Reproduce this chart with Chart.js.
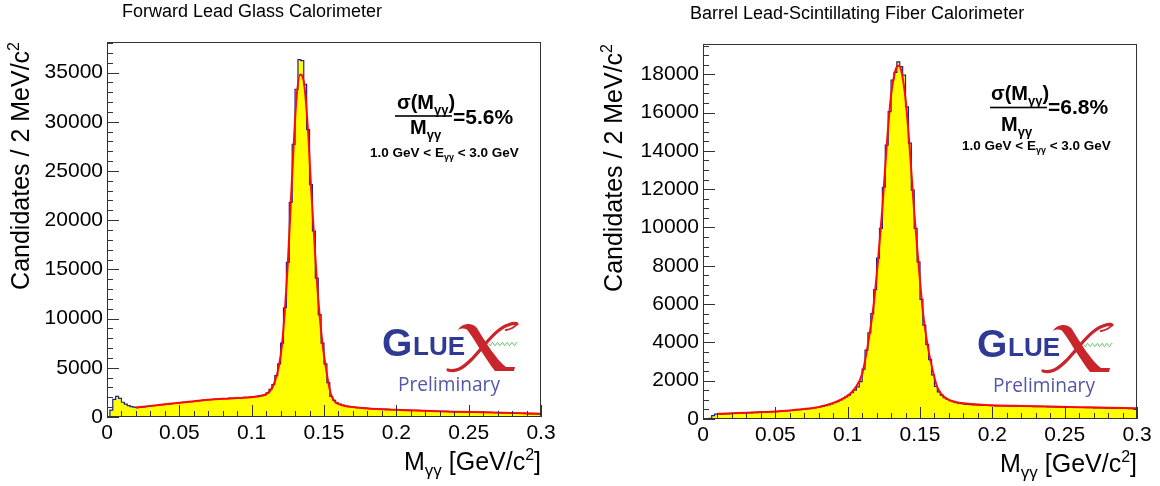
<!DOCTYPE html>
<html>
<head>
<meta charset="utf-8">
<title>GlueX pi0 calorimeter resolution</title>
<script src="https://cdn.jsdelivr.net/npm/chart.js@4.4.1/dist/chart.umd.min.js"></script>
<style>
  html, body { margin: 0; padding: 0; background: #fff; }
  #wrap { position: relative; width: 1160px; height: 486px; overflow: hidden; }
  canvas { position: absolute; top: 0; }
  #fcal { left: 0; }
  #bcal { left: 580px; }
</style>
</head>
<body>
<div id="wrap">
  <canvas id="fcal" width="580" height="486"></canvas>
  <canvas id="bcal" width="580" height="486"></canvas>
</div>
<script>
// Two-photon invariant mass, 2 MeV bins from 0 to 0.3 GeV
const binWidth = 0.002;
const xTickValues = [0, 0.05, 0.1, 0.15, 0.2, 0.25, 0.3];
const fcalYTicks = [0, 5000, 10000, 15000, 20000, 25000, 30000, 35000];
const bcalYTicks = [0, 2000, 4000, 6000, 8000, 10000, 12000, 14000, 16000, 18000];

// Forward Lead Glass Calorimeter - candidates per bin
const fcalBins = [
    0, 700, 1800, 2100, 1900, 1500, 1300, 1150, 1050, 1000,
    960, 990, 1010, 1060, 1080, 1120, 1160, 1170, 1220, 1260,
    1280, 1310, 1360, 1370, 1410, 1450, 1480, 1500, 1550, 1570,
    1600, 1640, 1650, 1700, 1730, 1760, 1780, 1810, 1830, 1850,
    1880, 1870, 1910, 1930, 1910, 1950, 1960, 1990, 2000, 2030,
    2060, 2090, 2150, 2200, 2250, 2450, 2800, 3300, 4200, 5400,
    7500, 11100, 15700, 21800, 27700, 33300, 36300, 36200, 33800, 29200,
    23600, 18900, 14100, 10400, 7500, 5400, 3500, 2100, 1700, 1450,
    1300, 1200, 1120, 1060, 1020, 990, 960, 940, 920, 900,
    880, 860, 850, 830, 815, 800, 790, 775, 760, 750,
    740, 725, 715, 705, 695, 685, 675, 665, 655, 645,
    635, 610, 600, 595, 585, 580, 570, 565, 555, 550,
    540, 535, 530, 520, 515, 510, 505, 500, 495, 490,
    485, 475, 465, 455, 445, 435, 425, 415, 405, 395,
    385, 375, 365, 355, 345, 335, 325, 315, 305, 300
];
const fcalFitX = [0.02, 0.03, 0.04, 0.05, 0.06, 0.07, 0.08, 0.09, 0.1, 0.106, 0.11, 0.113, 0.116, 0.119,
    0.121, 0.123, 0.125, 0.127, 0.129, 0.131, 0.1335, 0.136, 0.139, 0.141, 0.143, 0.145, 0.147, 0.149,
    0.151, 0.153, 0.155, 0.158, 0.162, 0.17, 0.18, 0.19, 0.2, 0.22, 0.24, 0.26, 0.28, 0.3];
const fcalFitY = [970, 1130, 1290, 1450, 1610, 1750, 1850, 1920, 2010, 2120, 2330, 2700, 3600, 5300,
    7400, 11000, 15600, 21600, 27500, 32400, 34800, 34100, 29000, 23500, 18700, 14000, 10300, 7400,
    5300, 3500, 2200, 1500, 1220, 1010, 860, 780, 730, 630, 540, 480, 410, 340];

// Barrel Lead-Scintillating Fiber Calorimeter - candidates per bin
const bcalBins = [
    0, 0, 40, 180, 250, 260, 250, 270, 265, 280,
    290, 295, 300, 310, 305, 315, 325, 330, 335, 345,
    350, 355, 365, 375, 385, 390, 400, 410, 420, 435,
    445, 460, 470, 485, 500, 520, 535, 555, 575, 600,
    630, 660, 700, 740, 790, 850, 910, 980, 1060, 1150,
    1250, 1370, 1510, 1680, 1950, 2600, 3600, 4500, 5500, 6750,
    8400, 9950, 12100, 14300, 16050, 17700, 18100, 18650, 18400, 17950,
    16300, 14400, 11950, 9950, 8200, 6250, 4900, 3900, 3100, 2300,
    1700, 1420, 1250, 1120, 1030, 960, 900, 860, 830, 800,
    780, 765, 750, 740, 730, 720, 715, 710, 705, 700,
    695, 690, 690, 685, 680, 680, 675, 670, 670, 665,
    660, 660, 655, 655, 650, 645, 645, 640, 640, 635,
    630, 630, 625, 625, 620, 615, 615, 610, 610, 605,
    600, 600, 595, 590, 590, 585, 580, 580, 575, 570,
    570, 565, 560, 560, 555, 550, 550, 545, 540, 500
];
const bcalFitX = [0.01, 0.02, 0.03, 0.04, 0.05, 0.06, 0.07, 0.08, 0.09, 0.095, 0.1, 0.105, 0.11, 0.114,
    0.118, 0.121, 0.124, 0.127, 0.13, 0.133, 0.135, 0.137, 0.14, 0.143, 0.146, 0.149, 0.152, 0.155,
    0.158, 0.162, 0.166, 0.17, 0.175, 0.18, 0.19, 0.2, 0.22, 0.24, 0.26, 0.28, 0.3];
const bcalFitY = [270, 295, 325, 360, 395, 450, 520, 630, 840, 1000, 1220, 1600, 2350, 3900,
    6000, 8300, 11000, 14300, 16900, 18200, 18450, 18200, 16700, 14000, 10800, 8100, 5600, 3950,
    2800, 1650, 1200, 1000, 880, 820, 760, 720, 680, 650, 620, 590, 560];

const FONT = '"Liberation Sans", Arial, sans-serif';

// Draw a run of text pieces (text, size, dy, weight), returns total width
function drawRich(ctx, x, y, parts, align) {
    let total = 0;
    parts.forEach(p => {
        ctx.font = `${p[3] || 'normal'} ${p[1]}px ${FONT}`;
        total += ctx.measureText(p[0]).width;
    });
    let cx = x;
    if (align === 'right') cx = x - total;
    if (align === 'center') cx = x - total / 2;
    parts.forEach(p => {
        ctx.font = `${p[3] || 'normal'} ${p[1]}px ${FONT}`;
        ctx.fillText(p[0], cx, y + (p[2] || 0));
        cx += ctx.measureText(p[0]).width;
    });
    return total;
}

// GlueX logo with "Preliminary" underneath, (ox, oy) = top-left of the G
function drawLogo(ctx, ox, oy) {
    ctx.save();
    ctx.textAlign = 'left';
    ctx.textBaseline = 'alphabetic';
    ctx.fillStyle = '#2e3a94';
    ctx.font = `bold 39px ${FONT}`;
    ctx.fillText('G', ox, oy + 28.5);
    ctx.font = `bold 26px ${FONT}`;
    ctx.fillText('LU', ox + 31, oy + 28);
    const wLU = ctx.measureText('LU').width;
    ctx.fillText('E', ox + 31 + wLU, oy + 28);

    // red X: heavy stroke top-left to bottom-right
    ctx.fillStyle = '#c9252c';
    ctx.beginPath();
    ctx.moveTo(ox + 76, oy + 3);
    ctx.bezierCurveTo(ox + 80, oy - 4, ox + 90, oy - 5, ox + 95, oy + 1);
    ctx.bezierCurveTo(ox + 104, oy + 16, ox + 114, oy + 32, ox + 124, oy + 40);
    ctx.lineTo(ox + 133, oy + 40);
    ctx.lineTo(ox + 132, oy + 44);
    ctx.lineTo(ox + 113, oy + 44);
    ctx.bezierCurveTo(ox + 102, oy + 30, ox + 93, oy + 13, ox + 86, oy + 4);
    ctx.bezierCurveTo(ox + 84, oy + 1, ox + 80, oy + 1, ox + 76, oy + 3);
    ctx.closePath();
    ctx.fill();
    // thin stroke bottom-left to top-right
    ctx.strokeStyle = '#c9252c';
    ctx.lineWidth = 3.2;
    ctx.lineCap = 'round';
    ctx.beginPath();
    ctx.moveTo(ox + 66, oy + 43);
    ctx.bezierCurveTo(ox + 74, oy + 45, ox + 80, oy + 42, ox + 90, oy + 32);
    ctx.bezierCurveTo(ox + 104, oy + 17, ox + 114, oy + 2, ox + 126, oy - 2);
    ctx.bezierCurveTo(ox + 131, oy - 4, ox + 135, oy - 4, ox + 135, oy - 3);
    ctx.stroke();
    ctx.lineWidth = 2;
    ctx.beginPath();
    ctx.moveTo(ox + 135, oy - 3);
    ctx.quadraticCurveTo(ox + 131, oy + 2, ox + 124, oy + 3);
    ctx.stroke();

    // green wavy photon line
    ctx.strokeStyle = '#5cb85c';
    ctx.lineWidth = 1;
    ctx.beginPath();
    for (let t = 0; t <= 28; t += 0.5) {
        const px = ox + 107 + t;
        const py = oy + 17 + 1.6 * Math.sin(t * 1.3);
        if (t === 0) ctx.moveTo(px, py); else ctx.lineTo(px, py);
    }
    ctx.stroke();

    ctx.fillStyle = '#5457a6';
    ctx.font = `20px "Open Sans", "DejaVu Sans", sans-serif`;
    ctx.fillText('Preliminary', ox + 16, oy + 64, 102);
    ctx.restore();
}

// ROOT-like frame, inward ticks and all the annotation text
const rootDecor = {
    id: 'rootDecor',
    afterDatasetsDraw(chart, args, opts) {
        const { ctx, chartArea: a, scales: { x, y } } = chart;
        ctx.save();
        ctx.strokeStyle = '#333';
        ctx.lineWidth = 1;
        ctx.beginPath();
        // y ticks: majors from the tick list, minors in between
        for (let v = 0; v <= y.max + 1e-6; v += opts.yMinor) {
            const py = Math.round(y.getPixelForValue(v)) + 0.5;
            const major = Math.abs(v / opts.yMajor - Math.round(v / opts.yMajor)) < 1e-6;
            ctx.moveTo(a.left, py);
            ctx.lineTo(a.left + (major ? 12 : 6), py);
        }
        for (let v = 0; v <= 0.3 + 1e-9; v += 0.01) {
            const px = Math.round(x.getPixelForValue(v)) + 0.5;
            const major = Math.abs(v / 0.05 - Math.round(v / 0.05)) < 1e-6;
            ctx.moveTo(px, a.bottom);
            ctx.lineTo(px, a.bottom - (major ? 12 : 6));
        }
        ctx.stroke();
        ctx.strokeRect(Math.round(a.left) + 0.5, Math.round(a.top) + 0.5,
            Math.round(a.width) - 1, Math.round(a.height) - 1);
        ctx.restore();
    },
    afterDraw(chart, args, opts) {
        const { ctx, chartArea: a } = chart;
        ctx.save();
        ctx.fillStyle = '#000';
        ctx.textBaseline = 'alphabetic';
        ctx.textAlign = 'left';

        // pad title
        ctx.font = `${opts.titleSize}px ${FONT}`;
        ctx.fillText(opts.title, opts.titleX, opts.titleY);

        // x axis title, right aligned to the frame
        drawRich(ctx, a.right, opts.xTitleY, [
            ['M', 25], ['\u03b3\u03b3', 17, 6], [' [GeV/c', 25], ['2', 16, -10], [']', 25]
        ], 'right');

        // y axis title, rotated, ending at the top of the frame
        ctx.save();
        ctx.translate(opts.yTitleX, a.top);
        ctx.rotate(-Math.PI / 2);
        drawRich(ctx, 0, 0, [['Candidates / 2 MeV/c', 25], ['2', 16, -10]], 'right');
        ctx.restore();

        // resolution annotation
        const r = opts.reso;
        drawRich(ctx, r.numX, r.numY, [['\u03c3(M', 20, 0, 'bold'], ['\u03b3\u03b3', 13, 5, 'bold'], [')', 20, 0, 'bold']]);
        ctx.fillRect(r.lineX0, r.lineY - 0.8, r.lineX1 - r.lineX0, 1.6);
        drawRich(ctx, r.denX, r.denY, [['M', 20, 0, 'bold'], ['\u03b3\u03b3', 13, 5, 'bold']]);
        drawRich(ctx, r.lineX1 + 1, r.valY, [[r.value, 21, 0, 'bold']]);
        drawRich(ctx, r.cutX, r.cutY, [
            ['1.0 GeV < E', 13.5, 0, 'bold'], ['\u03b3\u03b3', 9, 3, 'bold'], [' < 3.0 GeV', 13.5, 0, 'bold']
        ]);

        drawLogo(ctx, opts.logoX, opts.logoY);
        ctx.restore();
    }
};

function buildChart(id, p) {
    const histData = p.bins.map((v, i) => ({ x: i * binWidth, y: v }));
    histData.push({ x: p.bins.length * binWidth, y: p.bins[p.bins.length - 1] });
    const fitData = p.fitX.map((xv, i) => ({ x: xv, y: p.fitY[i] }));
    const tickFont = { family: FONT, size: 21 };

    return new Chart(document.getElementById(id), {
        type: 'line',
        data: {
            datasets: [{
                data: fitData,
                borderColor: '#ff0a0a',
                borderWidth: 2,
                pointRadius: 0,
                cubicInterpolationMode: 'monotone',
                fill: false,
                order: 0
            }, {
                data: histData,
                stepped: true,
                borderColor: '#1e1e98',
                borderWidth: 1.2,
                backgroundColor: '#ffff00',
                fill: 'origin',
                pointRadius: 0,
                order: 1
            }]
        },
        options: {
            responsive: false,
            animation: false,
            devicePixelRatio: 1,
            events: [],
            layout: { padding: { top: p.area.top, right: 580 - p.area.right, bottom: 0, left: 0 } },
            plugins: {
                legend: { display: false },
                tooltip: { enabled: false },
                title: { display: false },
                rootDecor: p.decor
            },
            scales: {
                x: {
                    type: 'linear',
                    min: 0,
                    max: 0.3,
                    grid: { display: false, drawTicks: false },
                    border: { display: false },
                    afterBuildTicks: s => { s.ticks = xTickValues.map(v => ({ value: v })); },
                    afterFit: s => { s.height = 486 - p.area.bottom; s.paddingLeft = 0; s.paddingRight = 0; },
                    ticks: {
                        font: tickFont, color: '#000', padding: 4, maxRotation: 0, autoSkip: false,
                        callback: v => String(v)
                    }
                },
                y: {
                    min: 0,
                    max: p.yMax,
                    grid: { display: false, drawTicks: false },
                    border: { display: false },
                    afterBuildTicks: s => { s.ticks = p.yTicks.map(v => ({ value: v })); },
                    afterFit: s => { s.width = p.area.left; s.paddingTop = 0; s.paddingBottom = 0; },
                    ticks: {
                        font: tickFont, color: '#000', padding: 4,
                        callback: v => String(v)
                    }
                }
            }
        },
        plugins: [rootDecor]
    });
}

buildChart('fcal', {
    bins: fcalBins, fitX: fcalFitX, fitY: fcalFitY, yTicks: fcalYTicks, yMax: 38100,
    area: { left: 107, right: 541, top: 42, bottom: 417 },
    decor: {
        yMajor: 5000, yMinor: 1000,
        title: 'Forward Lead Glass Calorimeter', titleSize: 18, titleX: 122, titleY: 17,
        xTitleY: 470, yTitleX: 29,
        reso: { numX: 397, numY: 109, lineX0: 395, lineX1: 452, lineY: 116, denX: 410, denY: 134,
                valY: 123.5, value: '=5.6%', cutX: 370, cutY: 157 },
        logoX: 382, logoY: 327
    }
});

buildChart('bcal', {
    bins: bcalBins, fitX: bcalFitX, fitY: bcalFitY, yTicks: bcalYTicks, yMax: 19580,
    area: { left: 123, right: 557, top: 44, bottom: 419 },
    decor: {
        yMajor: 2000, yMinor: 500,
        title: 'Barrel Lead-Scintillating Fiber Calorimeter', titleSize: 18, titleX: 110, titleY: 19,
        xTitleY: 472, yTitleX: 42,
        reso: { numX: 411, numY: 100, lineX0: 410, lineX1: 467, lineY: 107.5, denX: 421, denY: 131,
                valY: 114, value: '=6.8%', cutX: 382, cutY: 150 },
        logoX: 397, logoY: 328
    }
});
</script>
</body>
</html>
